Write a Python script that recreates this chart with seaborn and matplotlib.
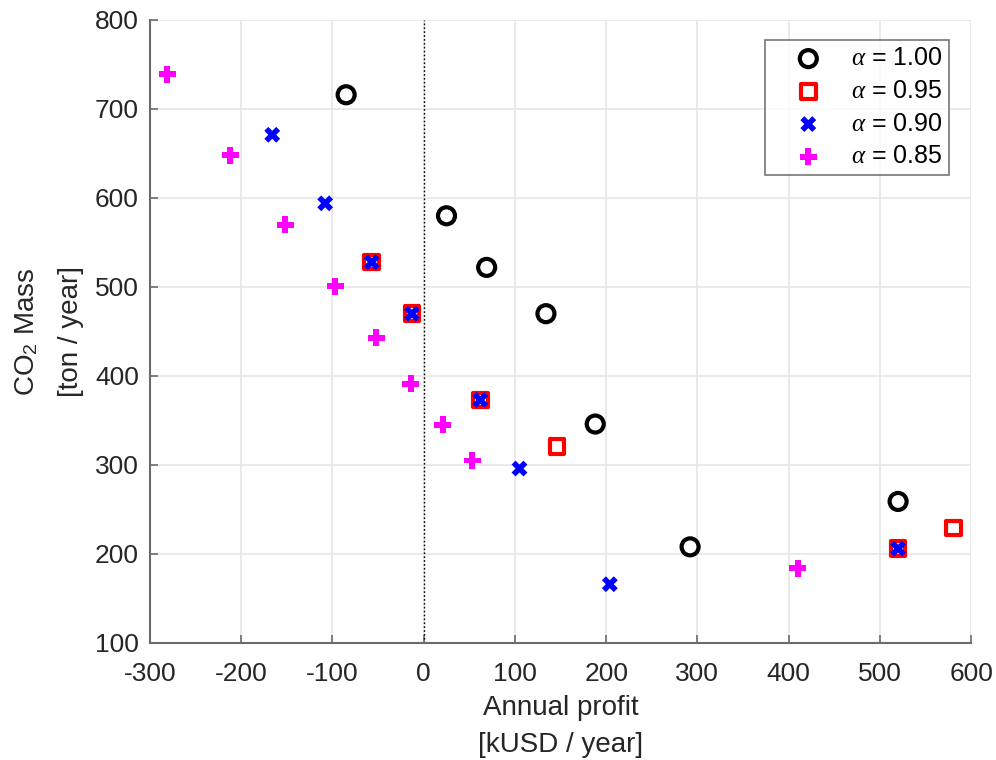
import matplotlib
matplotlib.use("Agg")
import matplotlib.pyplot as plt
import seaborn as sns
import pandas as pd

sns.set_theme(style="white")
plt.rcParams["font.family"] = ["Liberation Sans", "DejaVu Sans"]
plt.rcParams["mathtext.fontset"] = "custom"
plt.rcParams["mathtext.rm"] = "Liberation Sans"
plt.rcParams["mathtext.it"] = "Liberation Serif:italic"

# Annual profit [kUSD/year] and CO2 mass [ton/year] per alpha level
profit_a100 = [-85, 25, 69, 134, 188, 292, 520]
co2_a100 = [716, 580, 522, 470, 346, 208, 259]

profit_a095 = [-57, -13, 62, 146, 520, 581]
co2_a095 = [528, 470, 373, 321, 206, 229]

profit_a090 = [-166, -108, -57, -13, 62, 105, 204, 520]
co2_a090 = [671, 594, 528, 470, 373, 296, 166, 206]

profit_a085 = [-281, -212, -152, -97, -52, -14, 21, 53, 410]
co2_a085 = [739, 648, 570, 501, 443, 391, 345, 305, 184]

labels = [r"$\alpha$ = 1.00", r"$\alpha$ = 0.95", r"$\alpha$ = 0.90", r"$\alpha$ = 0.85"]

fig = plt.figure(figsize=(9.96, 7.6), dpi=100)
ax = fig.add_axes([0.1506, 0.154, 0.8244, 0.8197])

def frame(x, y):
    return pd.DataFrame({"profit": x, "co2": y})

sns.scatterplot(data=frame(profit_a100, co2_a100), x="profit", y="co2", ax=ax,
                marker="o", s=150, facecolors="none", edgecolor="black",
                linewidth=3.0, label=labels[0], zorder=3)
sns.scatterplot(data=frame(profit_a095, co2_a095), x="profit", y="co2", ax=ax,
                marker="s", s=110, facecolors="none", edgecolor="#ff0000",
                linewidth=3.0, label=labels[1], zorder=3)
sns.scatterplot(data=frame(profit_a090, co2_a090), x="profit", y="co2", ax=ax,
                marker="X", s=130, color="#0000ff", edgecolor="none",
                linewidth=0, label=labels[2], zorder=4)
sns.scatterplot(data=frame(profit_a085, co2_a085), x="profit", y="co2", ax=ax,
                marker="P", s=150, color="#ff00ff", edgecolor="none",
                linewidth=0, label=labels[3], zorder=4)

ax.axvline(0, color="black", linestyle=(0, (1.2, 1.6)), linewidth=1.0, zorder=2)

ax.set_xlim(-300, 600)
ax.set_ylim(100, 800)
ax.set_xticks(range(-300, 601, 100))
ax.set_yticks(range(100, 801, 100))
ax.set_xticklabels([str(v) for v in range(-300, 601, 100)])
ax.grid(True, color="#e6e6e6", linewidth=1.2)
ax.set_axisbelow(True)

for side in ("top", "right"):
    ax.spines[side].set_visible(False)
for side in ("left", "bottom"):
    ax.spines[side].set_color("#6b6b6b")
    ax.spines[side].set_linewidth(1.5)

ax.tick_params(axis="both", direction="in", length=6, width=1.2, color="#6b6b6b",
               labelsize=19, labelcolor="#262626")
ax.tick_params(axis="x", pad=14)
ax.tick_params(axis="y", pad=8)
ax.tick_params(axis="both", which="both", left=True, bottom=True)

ax.set_xlabel("Annual profit\n[kUSD / year]", fontsize=20, color="#262626",
              labelpad=6.5, linespacing=1.55)
ax.set_ylabel("CO$_2$ Mass\n[ton / year]", fontsize=20, color="#262626",
              labelpad=8, linespacing=1.9)

leg = ax.legend(loc="upper right", bbox_to_anchor=(0.973, 0.968), fontsize=18,
                frameon=True, fancybox=False, edgecolor="#555555",
                handletextpad=0.22, borderpad=0.25, labelspacing=0.35,
                handlelength=3.0, borderaxespad=0)
leg.get_frame().set_linewidth(1.2)
for t in leg.get_texts():
    t.set_color("black")

fig.savefig("out.png", dpi=100)
